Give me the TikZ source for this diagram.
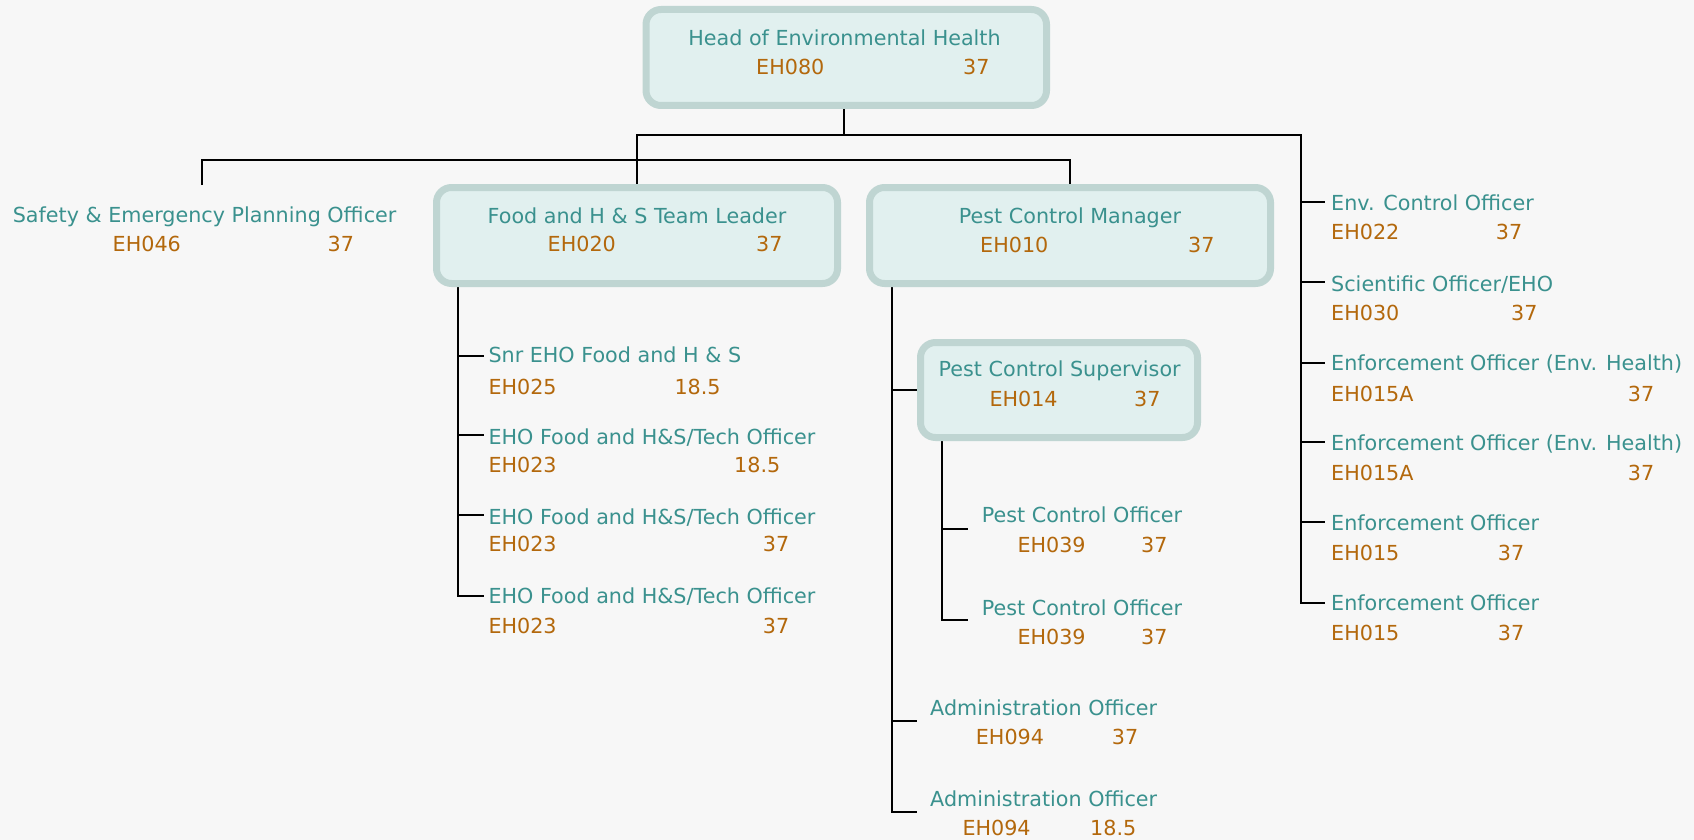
\documentclass[tikz,border=0pt]{standalone}
\usepackage{fontspec}
\setmainfont{DejaVu Sans}
\definecolor{tealc}{HTML}{3A918E}
\definecolor{orangec}{HTML}{B3680C}
\definecolor{boxline}{HTML}{BFD5D2}
\definecolor{boxfill}{HTML}{E1F0EF}
\definecolor{bgc}{HTML}{F7F7F7}
\pgfdeclarelayer{back}
\pgfdeclarelayer{wires}
\pgfsetlayers{back,wires,main}
\begin{document}
\begin{tikzpicture}[x=1pt,y=-1pt,
  ttl/.style={text=tealc, anchor=base, inner sep=0pt, font=\fontsize{20.7}{24}\selectfont},
  ttlw/.style={text=tealc, anchor=base west, inner sep=0pt, font=\fontsize{20.7}{24}\selectfont},
  num/.style={text=orangec, anchor=base west, inner sep=0pt, font=\fontsize{20.7}{24}\selectfont},
  posbox/.style={draw=boxline, fill=boxfill, line width=7pt, rounded corners=15pt, inner sep=0pt, rectangle},
  conn/.style={draw=black, line width=2pt}]

\begin{pgfonlayer}{back}
\fill[bgc] (0,0) rectangle (1694,840);
\end{pgfonlayer}
\useasboundingbox (0,0) rectangle (1694,840);

% ---- boxes
\node[posbox, minimum width=400.5pt, minimum height=96pt] (head) at (846.25,57.5) {};
\node[posbox, minimum width=401pt, minimum height=96pt] (food) at (637,235.5) {};
\node[posbox, minimum width=401pt, minimum height=96pt] (pcm) at (1070,235.5) {};
\node[posbox, minimum width=277pt, minimum height=95pt] (sup) at (1059,390) {};

% ---- head
\node[ttl] (headT) at (844.5,45.7) {Head of Environmental Health};
\node[num] (headC) at (756,75) {EH080};
\node[num] (headN) at (963,75) {37};

% ---- safety
\node[ttl] (safeT) at (204.6,222.7) {Safety \& Emergency Planning Officer};
\node[num] (safeC) at (112.5,251.7) {EH046};
\node[num] (safeN) at (327.5,251.7) {37};

% ---- food leader
\node[ttl] (foodT) at (637,223) {Food and H \& S Team Leader};
\node[num] (foodC) at (547.5,251.5) {EH020};
\node[num] (foodN) at (756,251.5) {37};

% ---- pest control manager
\node[ttl] (pcmT) at (1070,223) {Pest Control Manager};
\node[num] (pcmC) at (980,252) {EH010};
\node[num] (pcmN) at (1188,252) {37};

% ---- supervisor
\node[ttl] (supT) at (1059.7,376.7) {Pest Control Supervisor};
\node[num] (supC) at (989.3,406) {EH014};
\node[num] (supN) at (1134,406) {37};

% ---- food column
\node[ttlw] (f1T) at (488.3,362.7) {Snr EHO Food and H \& S};
\node[num] (f1C) at (488.3,394) {EH025};
\node[num] (f1N) at (674.3,394) {18.5};
\node[ttlw] (f2T) at (488.3,444) {EHO Food and H\&S/Tech Officer};
\node[num] (f2C) at (488.3,472.7) {EH023};
\node[num] (f2N) at (734,472.7) {18.5};
\node[ttlw] (f3T) at (488.3,524) {EHO Food and H\&S/Tech Officer};
\node[num] (f3C) at (488.3,551.7) {EH023};
\node[num] (f3N) at (762.7,551.7) {37};
\node[ttlw] (f4T) at (488.3,603.3) {EHO Food and H\&S/Tech Officer};
\node[num] (f4C) at (488.3,633.3) {EH023};
\node[num] (f4N) at (762.7,633.3) {37};

% ---- pest officers
\node[ttl] (p1T) at (1082,522.7) {Pest Control Officer};
\node[num] (p1C) at (1017.3,552.7) {EH039};
\node[num] (p1N) at (1141,552.7) {37};
\node[ttl] (p2T) at (1082,615) {Pest Control Officer};
\node[num] (p2C) at (1017.3,644) {EH039};
\node[num] (p2N) at (1141,644) {37};

% ---- admin
\node[ttl] (a1T) at (1043.7,715) {Administration Officer};
\node[num] (a1C) at (975.7,744.3) {EH094};
\node[num] (a1N) at (1111.7,744.3) {37};
\node[ttl] (a2T) at (1043.7,806.7) {Administration Officer};
\node[num] (a2C) at (962.3,835) {EH094};
\node[num] (a2N) at (1090,835) {18.5};

% ---- right column
\node[ttlw] (e1T) at (1331,210.7) {Env. Control Officer};
\node[num] (e1C) at (1331,239.3) {EH022};
\node[num] (e1N) at (1495.7,239.3) {37};
\node[ttlw] (e2T) at (1331,291.3) {Scientific Officer/EHO};
\node[num] (e2C) at (1331,320) {EH030};
\node[num] (e2N) at (1511,320) {37};
\node[ttlw] (e3T) at (1331,370) {Enforcement Officer (Env. Health)};
\node[num] (e3C) at (1331,401) {EH015A};
\node[num] (e3N) at (1627.7,401) {37};
\node[ttlw] (e4T) at (1331,450) {Enforcement Officer (Env. Health)};
\node[num] (e4C) at (1331,480) {EH015A};
\node[num] (e4N) at (1627.7,480) {37};
\node[ttlw] (e5T) at (1331,530.7) {Enforcement Officer};
\node[num] (e5C) at (1331,560) {EH015};
\node[num] (e5N) at (1497.7,560) {37};
\node[ttlw] (e6T) at (1331,610) {Enforcement Officer};
\node[num] (e6C) at (1331,640) {EH015};
\node[num] (e6N) at (1497.7,640) {37};

% ---- connector end points
\coordinate (hv) at (844,135);
\coordinate (busA) at (1301,135);
\coordinate (busB) at (202,160);
\coordinate (safeTop) at (202,185);
\coordinate (fv) at (458,287);
\coordinate (f1) at (484,356);
\coordinate (f2) at (484,435);
\coordinate (f3) at (484,515);
\coordinate (f4) at (484,596);
\coordinate (pv) at (892,287);
\coordinate (a1) at (917,721);
\coordinate (a2) at (917,812);
\coordinate (sv) at (942,441);
\coordinate (p1) at (968,529);
\coordinate (p2) at (968,620);
\coordinate (e1) at (1325,202);
\coordinate (e2) at (1325,282);
\coordinate (e3) at (1325,363);
\coordinate (e4) at (1325,442);
\coordinate (e5) at (1325,522);
\coordinate (e6) at (1325,603);

\begin{pgfonlayer}{wires}
% head to first level
\draw[conn] (hv |- head.south) -- (hv);
\draw[conn] (food.north) -- (food.north |- busA) -- (busA) -- (busA |- e6) -- (e6);
\draw[conn] (safeTop) -- (busB) -- (pcm.north |- busB) -- (pcm.north);
% right column ticks
\foreach \t in {e1,e2,e3,e4,e5}{\draw[conn] (busA |- \t) -- (\t);}
% food column
\draw[conn] (fv |- food.south) -- (fv |- f4) -- (f4);
\foreach \t in {f1,f2,f3}{\draw[conn] (fv |- \t) -- (\t);}
% pest control manager column
\draw[conn] (pv |- pcm.south) -- (pv |- a2) -- (a2);
\draw[conn] (pv |- a1) -- (a1);
\draw[conn] (pv |- sup.west) -- (sup.west);
% supervisor column
\draw[conn] (sv |- sup.south) -- (sv |- p2) -- (p2);
\draw[conn] (sv |- p1) -- (p1);
\end{pgfonlayer}
\end{tikzpicture}
\end{document}
